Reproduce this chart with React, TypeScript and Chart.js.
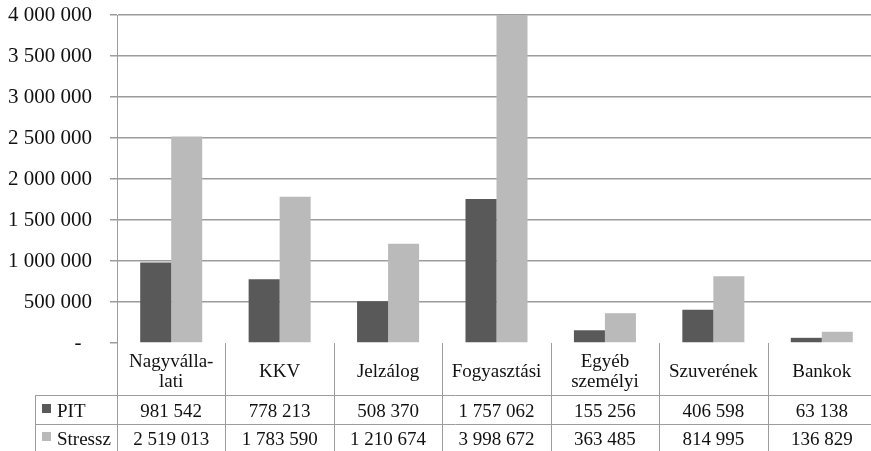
import React, { useEffect, useRef } from 'react';
import { Chart, registerables } from 'chart.js';

Chart.register(...registerables);

// Categories (full names) and how they wrap in the table header
const categories = ['Nagyvállalati', 'KKV', 'Jelzálog', 'Fogyasztási', 'Egyéb személyi', 'Szuverének', 'Bankok'];
const categoryLines = [['Nagyválla-', 'lati'], ['KKV'], ['Jelzálog'], ['Fogyasztási'], ['Egyéb', 'személyi'], ['Szuverének'], ['Bankok']];

// Series
const seriesNames = ['PIT', 'Stressz'];
const pitValues = [981542, 778213, 508370, 1757062, 155256, 406598, 63138];
const stresszValues = [2519013, 1783590, 1210674, 3998672, 363485, 814995, 136829];

// Value axis
const yMin = 0;
const yMax = 4000000;
const yStep = 500000;

const seriesColors = ['#595959', '#bababa'];
const lineColor = '#9c9c9c';
const serif = '"Liberation Serif", "Times New Roman", serif';

const fmt = (n: number) => String(Math.round(n)).replace(/\B(?=(\d{3})+(?!\d))/g, ' ');

// Draws the data table under the plot, aligned to the category scale
const dataTablePlugin = {
  id: 'dataTable',
  afterDraw(chart: any) {
    const { ctx, chartArea: area, scales } = chart;
    const xs = scales.x;
    const n = categories.length;
    const w = (area.right - area.left) / n;
    const base = area.bottom;
    const row1 = base + 52;
    const row2 = base + 81;
    const bottom = chart.height + 2;
    const tableLeft = 35;
    const crisp = (v: number) => Math.round(v) + 0.5;

    ctx.save();
    ctx.strokeStyle = lineColor;
    ctx.lineWidth = 1;
    ctx.beginPath();
    for (let i = 0; i <= n; i++) {
      const xb = crisp(area.left + i * w);
      ctx.moveTo(xb, base);
      ctx.lineTo(xb, bottom);
    }
    ctx.moveTo(crisp(tableLeft), row1);
    ctx.lineTo(crisp(tableLeft), bottom);
    ctx.moveTo(tableLeft, crisp(row1));
    ctx.lineTo(area.right, crisp(row1));
    ctx.moveTo(tableLeft, crisp(row2));
    ctx.lineTo(area.right, crisp(row2));
    ctx.stroke();

    ctx.fillStyle = '#111';
    ctx.font = `19px ${serif}`;
    ctx.textAlign = 'center';
    ctx.textBaseline = 'alphabetic';

    const rows = [pitValues, stresszValues];
    const rowBaselines = [base + 74, base + 102];

    for (let i = 0; i < n; i++) {
      const cx = xs.getPixelForValue(i);
      const lines = categoryLines[i];
      if (lines.length === 1) {
        ctx.fillText(lines[0], cx, base + 34);
      } else {
        ctx.fillText(lines[0], cx, base + 24);
        ctx.fillText(lines[1], cx, base + 44);
      }
      rows.forEach((vals, r) => {
        ctx.fillText(fmt(vals[i]), cx, rowBaselines[r]);
      });
    }

    // Row headers with legend keys
    ctx.textAlign = 'left';
    seriesNames.forEach((name, r) => {
      ctx.fillStyle = seriesColors[r];
      ctx.fillRect(42, rowBaselines[r] - 13, 9, 9);
      ctx.fillStyle = '#111';
      ctx.fillText(name, 57, rowBaselines[r]);
    });
    ctx.restore();
  },
};

export default function App() {
  const canvasRef = useRef<HTMLCanvasElement | null>(null);

  useEffect(() => {
    const canvas = canvasRef.current;
    if (!canvas) return;
    const chart = new Chart(canvas, {
      type: 'bar',
      data: {
        labels: categories,
        datasets: [
          { label: seriesNames[0], data: pitValues, backgroundColor: seriesColors[0], borderWidth: 0 },
          { label: seriesNames[1], data: stresszValues, backgroundColor: seriesColors[1], borderWidth: 0 },
        ],
      },
      options: {
        responsive: false,
        animation: false,
        devicePixelRatio: 1,
        layout: { padding: { top: 0, right: 4, bottom: 108, left: 0 } },
        datasets: { bar: { categoryPercentage: 0.572, barPercentage: 1 } },
        plugins: { legend: { display: false }, tooltip: { enabled: false } },
        scales: {
          x: { display: false },
          y: {
            min: yMin,
            max: yMax,
            ticks: {
              stepSize: yStep,
              color: '#111',
              padding: 18,
              font: { family: serif, size: 21 },
              callback: (v: any) => (Number(v) === 0 ? '-  ' : fmt(Number(v))),
            },
            grid: {
              color: (c: any) => (c.tick && c.tick.value === 0 ? 'rgba(0,0,0,0)' : lineColor),
              tickColor: lineColor,
              tickLength: 7,
              lineWidth: 1.5,
            },
            border: { color: lineColor, width: 1 },
            afterFit: (s: any) => {
              s.width = 117;
              s.paddingTop = 15;
            },
          },
        },
      },
      plugins: [dataTablePlugin],
    });
    return () => chart.destroy();
  }, []);

  return (
    <div style={{ position: 'fixed', left: 0, top: 0, width: 871, height: 451, overflow: 'hidden', background: '#fff' }}>
      <canvas ref={canvasRef} width={880} height={451} style={{ display: 'block' }} />
    </div>
  );
}
